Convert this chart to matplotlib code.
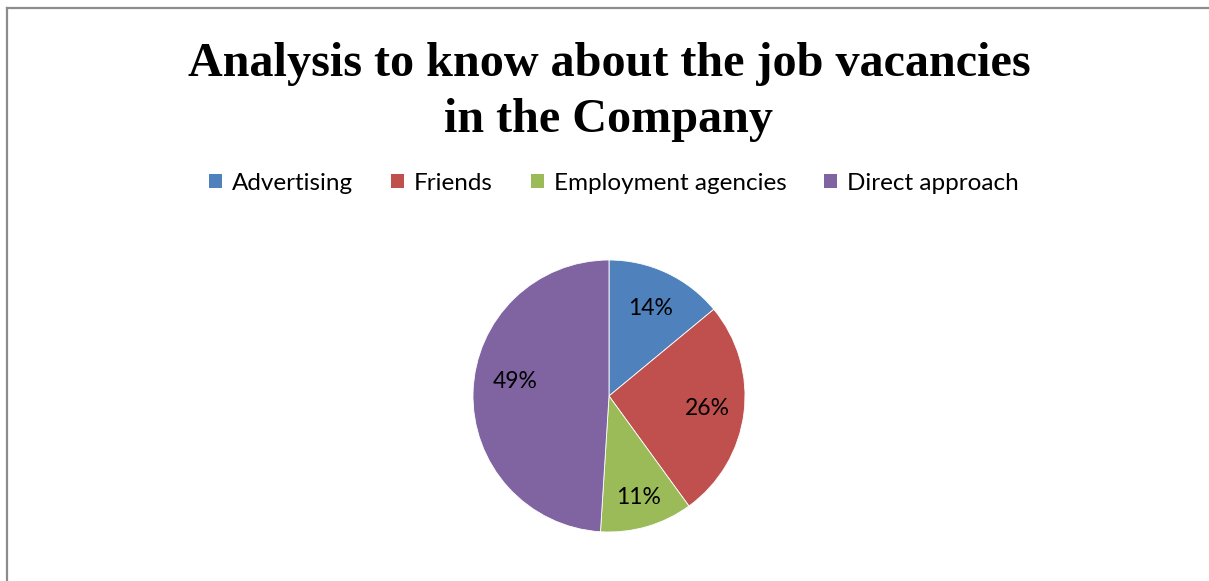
import numpy as np
import matplotlib.pyplot as plt
from matplotlib.lines import Line2D
from matplotlib.patches import Patch

sources = ["Advertising", "Friends", "Employment agencies", "Direct approach"]
shares = [14, 26, 11, 49]
colors = ["#4F81BD", "#C0504D", "#9BBB59", "#8064A2"]

W, H = 1209, 581
fig = plt.figure(figsize=(W / 100, H / 100), dpi=100)

# chart frame (only left and top edges fall inside the image)
border = "#8c8c8c"
fig.add_artist(Line2D([6.5 / W, 6.5 / W], [0, 1 - 8 / H], color=border, lw=1.6,
                      transform=fig.transFigure))
fig.add_artist(Line2D([6.5 / W, 1], [1 - 8 / H, 1 - 8 / H], color=border, lw=1.6,
                      transform=fig.transFigure))

fig.text(609 / W, 1 - 92 / H, "Analysis to know about the job vacancies\nin the Company",
         ha="center", va="center", family="Liberation Serif", fontweight="bold",
         fontsize=34.7, linespacing=1.36)

cx, cy, r = 609, 396, 136
ax = fig.add_axes([(cx - r) / W, (H - cy - r) / H, 2 * r / W, 2 * r / H])
wedges, texts, autotexts = ax.pie(
    shares, colors=colors, startangle=90, counterclock=False,
    autopct="%d%%", pctdistance=0.72,
    wedgeprops=dict(edgecolor="white", linewidth=0.6),
    textprops=dict(family="Lato", fontsize=16.5, color="black"))

# nudge the percentage labels along (or slightly off) their wedge bisectors
label_dist = [0.71, 0.73, 0.78, 0.70]
label_turn = [0, 0, 0, -7]
for w, t, d, turn in zip(wedges, autotexts, label_dist, label_turn):
    a = np.deg2rad((w.theta1 + w.theta2) / 2 + turn)
    t.set_position((d * np.cos(a), d * np.sin(a)))

ax.set_xlim(-1, 1)
ax.set_ylim(-1, 1)
ax.set_aspect("auto")

handles = [Patch(facecolor=c, edgecolor="none") for c in colors]
fig.legend(handles, sources, loc="center", bbox_to_anchor=(614 / W, 1 - 183 / H),
           ncol=4, frameon=False, prop=dict(family="Lato", size=17.5),
           handlelength=0.55, handleheight=0.55, handletextpad=0.4,
           columnspacing=1.55)

fig.savefig("out.png", dpi=100)
